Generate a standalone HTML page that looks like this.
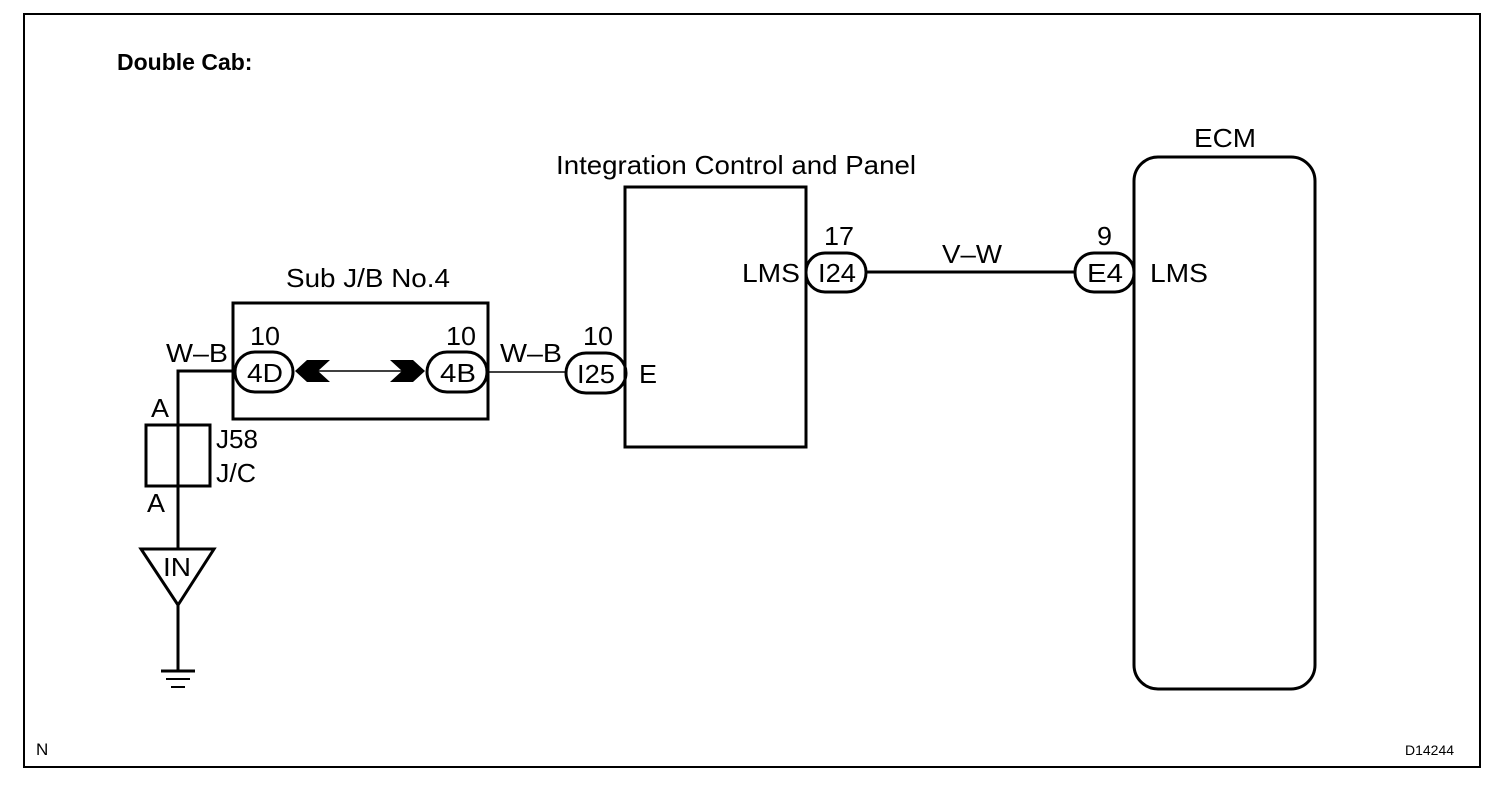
<!DOCTYPE html>
<html><head><style>
html,body{margin:0;padding:0;background:#fff;}
svg{display:block;}
text{font-family:"Liberation Sans",sans-serif;font-size:26px;fill:#000;}
</style></head><body>
<svg width="1504" height="796" viewBox="0 0 1504 796" xmlns="http://www.w3.org/2000/svg">
<rect x="24" y="14" width="1456" height="753" fill="none" stroke="#000" stroke-width="2"/>
<text x="117" y="70" style="font-weight:bold;font-size:23px">Double Cab:</text>

<text x="286" y="287" textLength="164" lengthAdjust="spacingAndGlyphs">Sub J/B No.4</text>
<rect x="233" y="303" width="255" height="116" fill="none" stroke="#000" stroke-width="3"/>
<text x="250" y="345" textLength="30" lengthAdjust="spacingAndGlyphs">10</text>
<text x="446" y="345" textLength="30" lengthAdjust="spacingAndGlyphs">10</text>
<rect x="235" y="352" width="58" height="40" rx="20" fill="#fff" stroke="#000" stroke-width="3"/>
<text x="247" y="382" textLength="36" lengthAdjust="spacingAndGlyphs">4D</text>
<rect x="427" y="352" width="60" height="40" rx="20" fill="#fff" stroke="#000" stroke-width="3"/>
<text x="440" y="382" textLength="36" lengthAdjust="spacingAndGlyphs">4B</text>
<line x1="300" y1="371" x2="420" y2="371" stroke="#000" stroke-width="1.5"/>
<polygon points="295,371 307,360 330,360 318,371 330,382 307,382" fill="#000"/>
<polygon points="425,371 413,360 390,360 402,371 390,382 413,382" fill="#000"/>

<text x="166" y="362" textLength="62" lengthAdjust="spacingAndGlyphs">W–B</text>
<polyline points="235,371 178,371 178,670" fill="none" stroke="#000" stroke-width="3"/>
<text x="151" y="417" textLength="18" lengthAdjust="spacingAndGlyphs">A</text>
<rect x="146" y="425" width="64" height="61" fill="none" stroke="#000" stroke-width="3"/>
<text x="216" y="448" textLength="42" lengthAdjust="spacingAndGlyphs">J58</text>
<text x="216" y="482" textLength="40" lengthAdjust="spacingAndGlyphs">J/C</text>
<text x="147" y="512" textLength="18" lengthAdjust="spacingAndGlyphs">A</text>
<polygon points="141,549 214,549 178,605" fill="#fff" stroke="#000" stroke-width="3"/>
<text x="163" y="576" textLength="28" lengthAdjust="spacingAndGlyphs">IN</text>
<line x1="178" y1="605" x2="178" y2="670" stroke="#000" stroke-width="3"/>
<line x1="161" y1="671" x2="195" y2="671" stroke="#000" stroke-width="3"/>
<line x1="166" y1="679" x2="190" y2="679" stroke="#000" stroke-width="2"/>
<line x1="171" y1="687" x2="185" y2="687" stroke="#000" stroke-width="2"/>

<line x1="488" y1="372" x2="566" y2="372" stroke="#000" stroke-width="1.5"/>
<text x="500" y="362" textLength="62" lengthAdjust="spacingAndGlyphs">W–B</text>
<text x="583" y="345" textLength="30" lengthAdjust="spacingAndGlyphs">10</text>
<rect x="566" y="353" width="60" height="40" rx="20" fill="#fff" stroke="#000" stroke-width="3"/>
<text x="577" y="383" textLength="38" lengthAdjust="spacingAndGlyphs">I25</text>
<text x="639" y="383" textLength="18" lengthAdjust="spacingAndGlyphs">E</text>

<text x="556" y="174" textLength="360" lengthAdjust="spacingAndGlyphs">Integration Control and Panel</text>
<rect x="625" y="187" width="181" height="260" fill="none" stroke="#000" stroke-width="3"/>
<text x="742" y="282" textLength="58" lengthAdjust="spacingAndGlyphs">LMS</text>
<text x="824" y="245" textLength="30" lengthAdjust="spacingAndGlyphs">17</text>
<rect x="806" y="253" width="60" height="39" rx="19" fill="#fff" stroke="#000" stroke-width="3"/>
<text x="818" y="282" textLength="38" lengthAdjust="spacingAndGlyphs">I24</text>
<line x1="866" y1="272" x2="1075" y2="272" stroke="#000" stroke-width="3"/>
<text x="942" y="263" textLength="60" lengthAdjust="spacingAndGlyphs">V–W</text>
<text x="1097" y="245" textLength="15" lengthAdjust="spacingAndGlyphs">9</text>
<rect x="1075" y="253" width="59" height="39" rx="19" fill="#fff" stroke="#000" stroke-width="3"/>
<text x="1087" y="282" textLength="36" lengthAdjust="spacingAndGlyphs">E4</text>
<text x="1150" y="282" textLength="58" lengthAdjust="spacingAndGlyphs">LMS</text>

<text x="1194" y="147" textLength="62" lengthAdjust="spacingAndGlyphs">ECM</text>
<rect x="1134" y="157" width="181" height="532" rx="24" fill="none" stroke="#000" stroke-width="3"/>

<text x="36" y="755" style="font-size:17px">N</text>
<text x="1405" y="755" style="font-size:14px">D14244</text>
</svg>
</body></html>
